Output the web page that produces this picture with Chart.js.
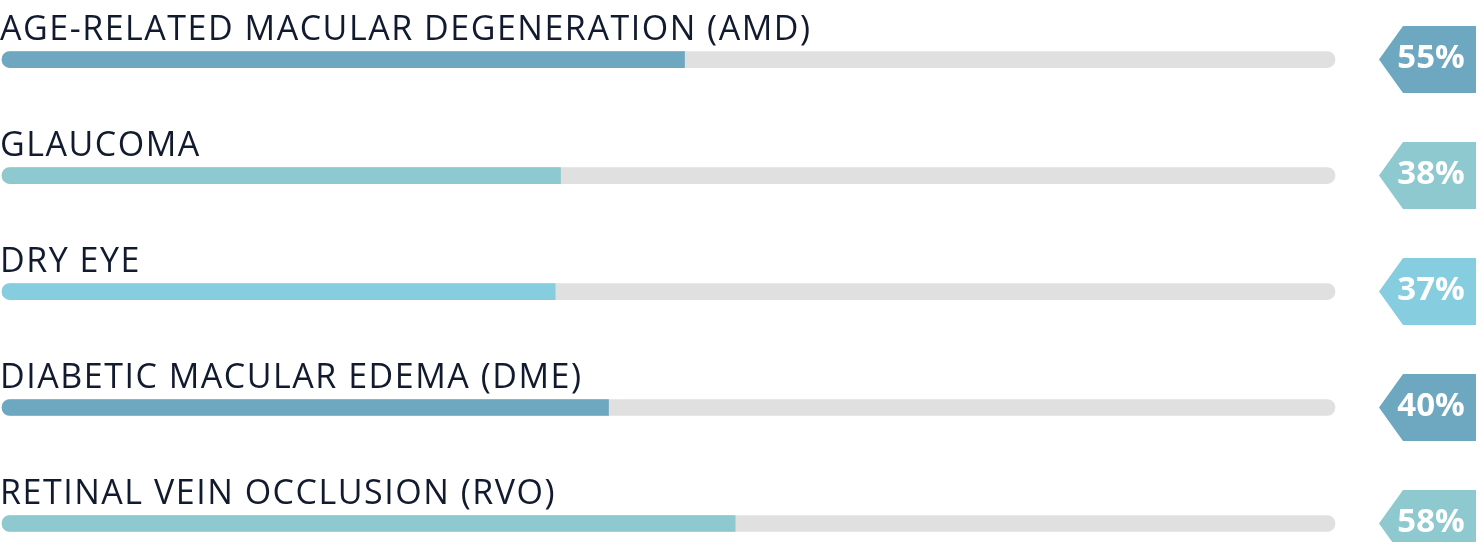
<html><head>
<meta charset="UTF-8">
<title>Eye Conditions</title>
<script src="https://cdn.jsdelivr.net/npm/chart.js"></script>
<style>
* { margin: 0; padding: 0; box-sizing: border-box; }
body { background: #fff; width: 1484px; height: 542px; overflow: hidden; }
.wrap { position: relative; width: 1484px; height: 542px; }
</style>
</head>
<body>
<div class="wrap"><canvas id="chart"></canvas></div>
<script>
const categories = [
  'AGE-RELATED MACULAR DEGENERATION (AMD)',
  'GLAUCOMA',
  'DRY EYE',
  'DIABETIC MACULAR EDEMA (DME)',
  'RETINAL VEIN OCCLUSION (RVO)'
];
// filled length of each bar, as share of the grey track (0-100)
const barValues = [51.2, 41.9, 41.5, 45.5, 55.0];
// percentages shown in the badges
const badgeValues = [55, 38, 37, 40, 58];
const trackValues = [100, 100, 100, 100, 100];
const colors = ['#6da7c0', '#8ec9cf', '#87cde0', '#6da7c0', '#8ec9cf'];

const labelFont = '500 34px "Open Sans", "Noto Sans", sans-serif';
const badgeFont = '700 33px "Open Sans", "Noto Sans", sans-serif';

const decorations = {
  id: 'decorations',
  afterDatasetsDraw(chart) {
    const ctx = chart.ctx;
    const meta = chart.getDatasetMeta(0);
    ctx.save();
    // labels above bars, spaced to match the wide original face
    ctx.font = labelFont;
    const plain = ctx.measureText(categories[0]).width;
    const spacing = (810 - plain) / (categories[0].length - 1);
    if ('letterSpacing' in ctx) ctx.letterSpacing = spacing + 'px';
    ctx.fillStyle = '#111a2e';
    ctx.textAlign = 'left';
    ctx.textBaseline = 'alphabetic';
    meta.data.forEach((bar, i) => {
      ctx.fillText(categories[i], 0, bar.y - 20);
    });
    if ('letterSpacing' in ctx) ctx.letterSpacing = '0px';

    // arrow badges on the right
    const w = chart.width;
    meta.data.forEach((bar, i) => {
      const cy = bar.y;
      const h = 33.5;
      ctx.beginPath();
      ctx.moveTo(w - 105, cy);
      ctx.lineTo(w - 81, cy - h);
      ctx.lineTo(w - 8, cy - h);
      ctx.lineTo(w - 8, cy + h);
      ctx.lineTo(w - 81, cy + h);
      ctx.closePath();
      ctx.fillStyle = colors[i];
      ctx.fill();
      ctx.font = badgeFont;
      ctx.fillStyle = '#ffffff';
      ctx.textAlign = 'center';
      ctx.textBaseline = 'middle';
      ctx.fillText(badgeValues[i] + '%', w - 53, cy - 1);
    });
    ctx.restore();
  }
};

new Chart(document.getElementById('chart'), {
  type: 'bar',
  data: {
    labels: categories,
    datasets: [{
      data: barValues,
      backgroundColor: colors,
      borderRadius: { topLeft: 8, bottomLeft: 8, topRight: 0, bottomRight: 0 },
      borderSkipped: false,
      barThickness: 16,
      grouped: false,
      clip: false,
      order: 0
    }, {
      data: trackValues,
      backgroundColor: '#e0e0e0',
      borderRadius: 8,
      borderSkipped: false,
      barThickness: 16,
      grouped: false,
      clip: false,
      order: 1
    }]
  },
  options: {
    indexAxis: 'y',
    responsive: true,
    maintainAspectRatio: false,
    animation: false,
    layout: { padding: { left: 2, right: 149, top: 59.6, bottom: 18.5 } },
    scales: {
      x: { display: false, min: 0, max: 100 },
      y: { display: false, offset: false }
    },
    plugins: {
      legend: { display: false },
      tooltip: { enabled: false }
    }
  },
  plugins: [decorations]
});
</script>
</body></html>
